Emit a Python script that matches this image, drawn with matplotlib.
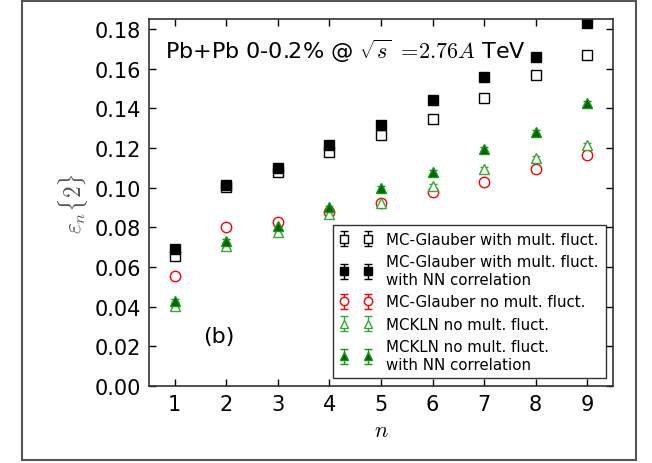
import matplotlib.pyplot as plt
from matplotlib.patches import Rectangle

plt.rcParams["mathtext.fontset"] = "cm"
plt.rcParams["font.family"] = "DejaVu Sans"

n = [1, 2, 3, 4, 5, 6, 7, 8, 9]

# eccentricities from two-particle cumulants
glauber_mult = [0.0656, 0.1005, 0.1077, 0.1180, 0.1265, 0.1344, 0.1451, 0.1570, 0.1666]
glauber_mult_nn = [0.0690, 0.1013, 0.1100, 0.1215, 0.1315, 0.1440, 0.1557, 0.1660, 0.1830]
glauber_no_mult = [0.0555, 0.0799, 0.0827, 0.0875, 0.0920, 0.0980, 0.1030, 0.1096, 0.1163]
mckln = [0.0404, 0.0706, 0.0774, 0.0866, 0.0920, 0.1008, 0.1096, 0.1150, 0.1215]
mckln_nn = [0.0429, 0.0731, 0.0807, 0.0900, 0.0997, 0.1080, 0.1193, 0.1280, 0.1428]

# statistical errors
glauber_mult_err = [0.0006, 0.0006, 0.0006, 0.0007, 0.0007, 0.0007, 0.0008, 0.0008, 0.0008]
glauber_mult_nn_err = [0.0006, 0.0006, 0.0006, 0.0007, 0.0007, 0.0007, 0.0008, 0.0008, 0.0008]
glauber_no_mult_err = [0.0006, 0.0006, 0.0006, 0.0007, 0.0007, 0.0007, 0.0008, 0.0008, 0.0008]
mckln_err = [0.0008, 0.0008, 0.0008, 0.0009, 0.0009, 0.0009, 0.0010, 0.0010, 0.0010]
mckln_nn_err = [0.0008, 0.0008, 0.0008, 0.0009, 0.0009, 0.0009, 0.0010, 0.0010, 0.0010]

fig = plt.figure(figsize=(6.52, 4.64), dpi=100)
fig.patch.set_facecolor("white")
ax = fig.add_axes([0.2285, 0.166, 0.7117, 0.7909])

# outer frame around the whole figure
fig.patches.append(Rectangle((22 / 652, 1 - 461 / 464), 614 / 652, 459 / 464,
                             transform=fig.transFigure, fill=False,
                             edgecolor="#555555", linewidth=1.5))

common = dict(linestyle="none", capsize=3, markersize=7.5, elinewidth=1, capthick=1)
ax.errorbar(n, glauber_mult, yerr=glauber_mult_err, fmt="s", color="black",
            mfc="white", mec="black", label="MC-Glauber with mult. fluct.", **common)
ax.errorbar(n, glauber_mult_nn, yerr=glauber_mult_nn_err, fmt="s", color="black",
            mfc="black", mec="black",
            label="MC-Glauber with mult. fluct.\nwith NN correlation", **common)
ax.errorbar(n, glauber_no_mult, yerr=glauber_no_mult_err, fmt="o", color="red",
            mfc="white", mec="red", label="MC-Glauber no mult. fluct.", **common)
ax.errorbar(n, mckln, yerr=mckln_err, fmt="^", color="#33aa33",
            mfc="white", mec="#33aa33", label="MCKLN no mult. fluct.", **common)
ax.errorbar(n, mckln_nn, yerr=mckln_nn_err, fmt="^", color="#119911",
            mfc="#006400", mec="#119911",
            label="MCKLN no mult. fluct.\nwith NN correlation", **common)

ax.set_xlim(0.5, 9.5)
ax.set_ylim(0, 0.185)
ax.set_xticks(n)
ax.set_yticks([0.00, 0.02, 0.04, 0.06, 0.08, 0.10, 0.12, 0.14, 0.16, 0.18])
ax.set_yticklabels(["0.00", "0.02", "0.04", "0.06", "0.08", "0.10",
                    "0.12", "0.14", "0.16", "0.18"])
ax.tick_params(direction="in", top=True, right=True, length=5, width=1,
               labelsize=15, pad=6, colors="black")
for s in ax.spines.values():
    s.set_linewidth(1.2)
    s.set_edgecolor("#333333")

ax.set_xlabel(r"$n$", fontsize=16, labelpad=4)
ax.set_ylabel(r"$\varepsilon_n\{2\}$", fontsize=17, color="#555555", labelpad=3)

ax.text(0.035, 0.915, r"Pb+Pb 0-0.2% @ $\sqrt{s}$ $=\!2.76A$ TeV",
        transform=ax.transAxes, fontsize=16, va="center", ha="left")
ax.text(1.55, 0.025, "(b)", fontsize=16, va="center", ha="left")

leg = ax.legend(loc="lower right", numpoints=2, fontsize=10.8, frameon=True,
                fancybox=False, borderpad=0.45, labelspacing=0.5,
                handlelength=2.2, handletextpad=0.9, borderaxespad=0.5,
                markerscale=0.8)
leg.get_frame().set_edgecolor("black")
leg.get_frame().set_linewidth(1.0)

fig.savefig("out.png", dpi=100, facecolor="white")
